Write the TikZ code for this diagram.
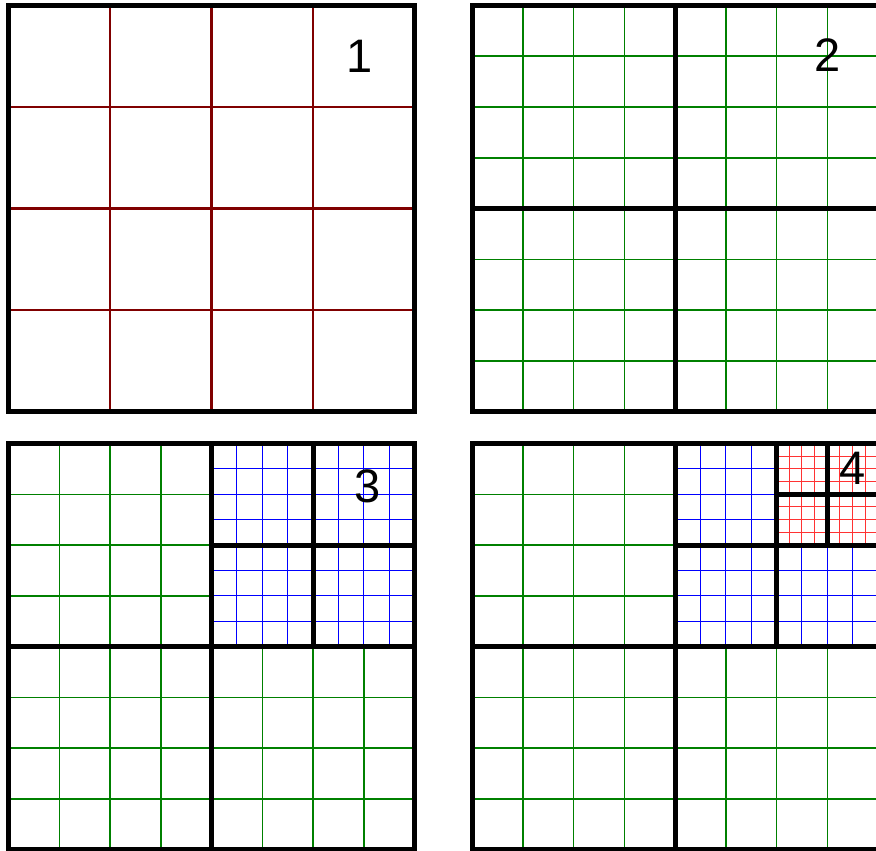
\documentclass[tikz,border=0pt]{standalone}
\usepackage{fontspec}
\setmainfont{Liberation Sans}
\definecolor{dredc}{RGB}{128,0,0}
\definecolor{greenc}{RGB}{0,128,0}
\definecolor{bluec}{RGB}{0,0,255}
\definecolor{redc}{RGB}{255,0,0}
\begin{document}
\begin{tikzpicture}[x=1pt,y=-1pt,
  border/.style={line width=5pt, black, line cap=rect},
  divline/.style={line width=5pt, black},
  dredline/.style={line width=2.4pt, dredc},
  greenline/.style={line width=1.5pt, greenc},
  blueline/.style={line width=1.2pt, bluec},
  redline/.style={line width=1pt, redc!80},
  numlabel/.style={font=\fontsize{47}{50}\selectfont, inner sep=0pt}]
\useasboundingbox (0,0) rectangle (876,851);
\clip (0,0) rectangle (876,851);
% ---------- Panel 1 ----------
\begin{scope}[shift={(8.5,5.5)}]
  \foreach \i in {1,2,3} {
    \draw[dredline] (\i*101.5,0) -- (\i*101.5,406);
    \draw[dredline] (0,\i*101.5) -- (406,\i*101.5);
  }
  \draw[border] (0,0) rectangle (406,406);
\end{scope}
% ---------- Panel 2 ----------
\begin{scope}[shift={(472,5.5)}]
  \foreach \i in {1,...,7} {
    \draw[greenline] (\i*50.75,0) -- (\i*50.75,406);
    \draw[greenline] (0,\i*50.75) -- (406,\i*50.75);
  }
  \draw[divline] (203,0) -- (203,406);
  \draw[divline] (0,203) -- (406,203);
  \draw[border] (0,0) rectangle (406,406);
\end{scope}
% ---------- Panel 3 ----------
\begin{scope}[shift={(8.5,443.5)}]
  \foreach \i in {1,2,3} {
    \draw[greenline] (\i*50.75,0) -- (\i*50.75,406);
    \draw[greenline] (0,\i*50.75) -- (203,\i*50.75);
  }
  \foreach \i in {5,6,7} {
    \draw[greenline] (\i*50.75,203) -- (\i*50.75,406);
    \draw[greenline] (0,\i*50.75) -- (406,\i*50.75);
  }
  \foreach \j in {1,...,7} {
    \draw[blueline] (203+\j*25.375,0) -- (203+\j*25.375,203);
    \draw[blueline] (203,\j*25.375) -- (406,\j*25.375);
  }
  \draw[divline] (203,0) -- (203,406);
  \draw[divline] (0,203) -- (406,203);
  \draw[divline] (304.5,0) -- (304.5,203);
  \draw[divline] (203,101.5) -- (406,101.5);
  \draw[border] (0,0) rectangle (406,406);
\end{scope}
% ---------- Panel 4 ----------
\begin{scope}[shift={(472,443.5)}]
  \foreach \i in {1,2,3} {
    \draw[greenline] (\i*50.75,0) -- (\i*50.75,406);
    \draw[greenline] (0,\i*50.75) -- (203,\i*50.75);
  }
  \foreach \i in {5,6,7} {
    \draw[greenline] (\i*50.75,203) -- (\i*50.75,406);
    \draw[greenline] (0,\i*50.75) -- (406,\i*50.75);
  }
  \foreach \j in {1,2,3} {
    \draw[blueline] (203+\j*25.375,0) -- (203+\j*25.375,203);
    \draw[blueline] (203,\j*25.375) -- (304.5,\j*25.375);
  }
  \foreach \j in {5,6,7} {
    \draw[blueline] (203+\j*25.375,101.5) -- (203+\j*25.375,203);
    \draw[blueline] (203,\j*25.375) -- (406,\j*25.375);
  }
  \foreach \k in {1,...,7} {
    \draw[redline] (304.5+\k*12.6875,0) -- (304.5+\k*12.6875,101.5);
    \draw[redline] (304.5,\k*12.6875) -- (406,\k*12.6875);
  }
  \draw[divline] (203,0) -- (203,406);
  \draw[divline] (0,203) -- (406,203);
  \draw[divline] (304.5,0) -- (304.5,203);
  \draw[divline] (203,101.5) -- (406,101.5);
  \draw[divline] (355.25,0) -- (355.25,101.5);
  \draw[divline] (304.5,50.75) -- (406,50.75);
  \draw[border] (0,0) rectangle (406,406);
\end{scope}
% ---------- Labels ----------
\node[numlabel] (l1) at (360,56) {1};
\node[numlabel] (l2) at (828,55) {2};
\node[numlabel] (l3) at (367.5,486) {3};
\node[numlabel] (l4) at (853,468.5) {4};
\end{tikzpicture}
\end{document}
